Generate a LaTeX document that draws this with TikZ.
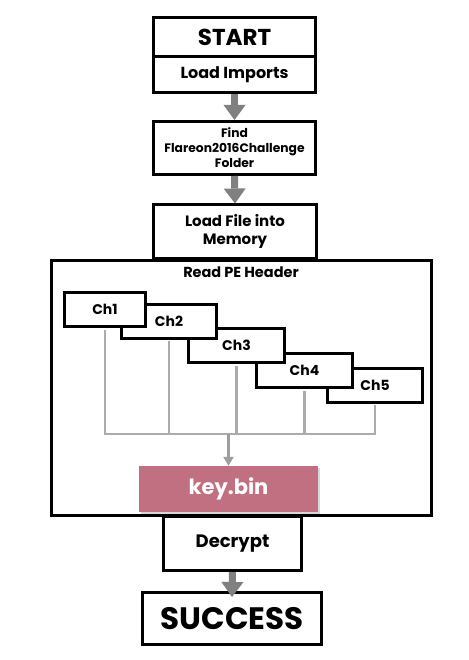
\documentclass[tikz,border=0pt]{standalone}
\usepackage{fontspec}
\setmainfont{Poppins}
\usetikzlibrary{arrows.meta,shadows}

\definecolor{keyred}{RGB}{192,112,128}

\tikzset{
  box/.style={shape=rectangle,draw=black,line width=3pt,fill=white,align=center,inner sep=0pt},
  chbox/.style={box,minimum height=34pt,font=\bfseries\fontsize{14}{16}\selectfont},
  bigarrow/.style={draw=gray,line width=7pt,-{Triangle[width=22pt,length=15pt,line width=0pt]}},
  chline/.style={draw=black!33,line width=2.5pt,shorten <=1.5pt},
}

\begin{document}
\begin{tikzpicture}[x=1pt,y=-1pt]
\useasboundingbox (0,0) rectangle (468,660);

\node[box,minimum width=162pt,minimum height=39pt,font=\bfseries\fontsize{23}{26}\selectfont] (start) at (234.5,37) {START};
\node[box,minimum width=162pt,minimum height=36pt,font=\bfseries\fontsize{16}{18}\selectfont] (loadimp) at (234.5,75) {Load Imports};
\node[box,minimum width=162pt,minimum height=53pt,font=\bfseries\fontsize{12.3}{15}\selectfont] (find) at (234.5,148) {Find\\Flareon2016Challenge\\Folder};
\node[box,minimum width=380pt,minimum height=255pt] (readpe) at (241.5,388) {};
\node[box,minimum width=163pt,minimum height=53pt,font=\bfseries\fontsize{15}{18}\selectfont] (loadfile) at (235,231.5) {Load File into\\Memory};
\node[font=\bfseries\fontsize{14.5}{16}\selectfont] (readlbl) at (241,272) {Read PE Header};

% chunks, back to front
\node[chbox,minimum width=95pt] (ch5) at (375,385) {Ch5};
\node[chbox,minimum width=96pt] (ch4) at (304.5,370.5) {Ch4};
\node[chbox,minimum width=96pt] (ch3) at (236.5,345.5) {Ch3};
\node[chbox,minimum width=95pt] (ch2) at (169,321) {Ch2};
\node[chbox,minimum width=81pt] (ch1) at (105,309.5) {Ch1};

\node[shape=rectangle,fill=keyred,text=white,minimum width=179pt,minimum height=46pt,
      drop shadow={shadow xshift=1.5pt,shadow yshift=-1.5pt,opacity=0.3},
      font=\bfseries\fontsize{21}{23}\selectfont] (keybin) at (228.5,489) {key.bin};

\node[box,minimum width=138pt,minimum height=54pt,font=\bfseries\fontsize{18}{20}\selectfont] (decrypt) at (232.5,543.5) {Decrypt};
\node[box,minimum width=179pt,minimum height=52pt,font=\bfseries\fontsize{31}{33}\selectfont] (success) at (232,618.5) {SUCCESS};

\coordinate (bus) at (228.5,434);

\draw[chline] (ch1.south) -- (ch1.south |- bus);
\draw[chline] (ch2.south) -- (ch2.south |- bus);
\draw[chline] (ch3.south) -- (ch3.south |- bus);
\draw[chline] (ch4.south) -- (ch4.south |- bus);
\draw[chline] (ch5.south) -- (ch5.south |- bus);
\draw[chline,shorten <=0pt,line cap=rect] (ch1.south |- bus) -- (ch5.south |- bus);
\draw[draw=black!38,line width=3pt,-{Triangle[width=10pt,length=9pt]}] (bus) -- (keybin.north);

\draw[bigarrow] (loadimp.south) -- (find.north);
\draw[bigarrow] (find.south) -- (loadfile.north);
\draw[bigarrow] (decrypt.south) -- ([yshift=-6pt]success.north);

\end{tikzpicture}
\end{document}
